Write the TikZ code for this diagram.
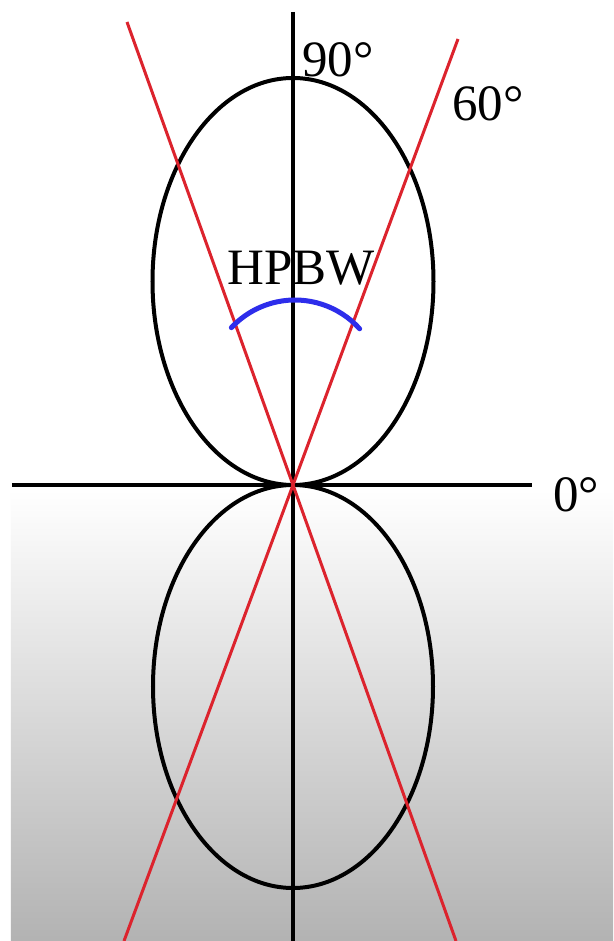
\documentclass[tikz,border=0pt]{standalone}
\usepackage{fontspec}
\setmainfont{Liberation Serif}
\usetikzlibrary{calc}
\definecolor{cbeam}{RGB}{220,35,45}
\definecolor{chpbw}{RGB}{45,45,235}
\tikzset{
  axis/.style={black,line width=4pt},
  lobe/.style={black,line width=4pt},
  beam/.style={cbeam,line width=3pt},
  hpbw/.style={chpbw,line width=5pt,line cap=round},
  lab/.style={font=\fontsize{51}{51}\selectfont,inner sep=0pt}
}
\begin{document}
\begin{tikzpicture}[x=1pt,y=1pt]
\useasboundingbox (-293,-456) rectangle (320,485);
% background: white, fading to grey in the lower half
\fill[white] (-293,-456) rectangle (320,485);
\shade[top color=white,bottom color=black!30] (-282,-5) rectangle (320,-456);
% ---------------- axes ----------------
\coordinate (O) at (0,0);
\coordinate (xl) at (-281,0);  \coordinate (xr) at (239,0);
\coordinate (yt) at (0,473);   \coordinate (yb) at (0,-456);
\draw[axis] (xl) -- (xr);
\draw[axis] (yt) -- (yb);
% ---------------- radiation pattern ----------------
\draw[lobe] (0,203.5) ellipse [x radius=140.5,y radius=203.5];
\draw[lobe] (0,-201.5) ellipse [x radius=140,y radius=201.5];
% ---------------- half-power directions ----------------
\coordinate (b1t) at (-166,463);  \coordinate (b1b) at (163,-456);
\coordinate (b2t) at (165,446);   \coordinate (b2b) at (-169,-456);
\draw[beam] (b1t) -- (O) -- (b1b);
\draw[beam] (b2t) -- (O) -- (b2b);
% ---------------- beamwidth arc ----------------
\coordinate (hc) at (2,98);
\draw[hpbw] ($(hc)+(42:87)$) arc[start angle=42,end angle=137,radius=87];
% ---------------- labels ----------------
\node[lab] (l90) at (45,425) {90°};
\node[lab] (l60) at (195,381) {60°};
\node[lab] (l0) at (283,-10) {0°};
\node[lab] (lhp) at (8,217) {HPBW};
\end{tikzpicture}
\end{document}
